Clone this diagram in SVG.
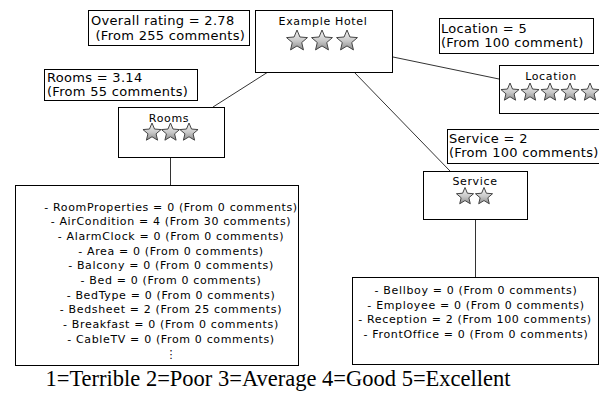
<svg xmlns="http://www.w3.org/2000/svg" xmlns:xlink="http://www.w3.org/1999/xlink" width="599" height="394" viewBox="0 0 599 394">
<style>
.box{fill:#fff;stroke:#000;stroke-width:1}
.conn{stroke:#333;stroke-width:1;fill:none}
.lbl{font-family:"DejaVu Sans",Verdana,sans-serif;font-size:13px;letter-spacing:0.3px;fill:#000}
.t{font-family:"DejaVu Sans",Verdana,sans-serif;font-size:11px;letter-spacing:0.65px;fill:#000;text-anchor:middle}
.foot{font-family:"Liberation Serif","Times New Roman",serif;font-size:22.5px;fill:#000;text-anchor:middle}
.star{fill:url(#sg);stroke:#444;stroke-width:1;vector-effect:non-scaling-stroke}
</style>
<defs>
<linearGradient id="sg" x1="0" y1="0" x2="0" y2="1">
<stop offset="0" stop-color="#f4f4f4"/>
<stop offset="0.55" stop-color="#c8c8c8"/>
<stop offset="1" stop-color="#8a8a8a"/>
</linearGradient>
<path id="star" class="star" d="M0,-1 L0.265,-0.364 L0.951,-0.309 L0.428,0.139 L0.588,0.809 L0,0.45 L-0.588,0.809 L-0.428,0.139 L-0.951,-0.309 L-0.265,-0.364 Z"/>
</defs>
<rect width="599" height="394" fill="#fff"/>
<g id="connectors">
<line class="conn" x1="268" y1="72" x2="213" y2="107"/>
<line class="conn" x1="393" y1="57" x2="499" y2="79"/>
<line class="conn" x1="354" y1="72" x2="450" y2="171"/>
<line class="conn" x1="170.5" y1="157" x2="170.5" y2="185"/>
<line class="conn" x1="475.5" y1="219" x2="475.5" y2="277"/>
</g>
<g id="overall-label">
<rect class="box" x="88.5" y="10.5" width="161" height="35"/>
<text class="lbl" x="91" y="25">Overall rating = 2.78</text>
<text class="lbl" x="91" y="40" xml:space="preserve"> (From 255 comments)</text>
</g>
<g id="hotel">
<rect class="box" x="255.5" y="10.5" width="137" height="62"/>
<text class="t" x="323" y="25">Example Hotel</text>
<use xlink:href="#star" transform="translate(297,41) scale(11)"/>
<use xlink:href="#star" transform="translate(322,41) scale(11)"/>
<use xlink:href="#star" transform="translate(347,41) scale(11)"/>
</g>
<g id="location-label">
<rect class="box" x="439.5" y="18.5" width="154" height="35"/>
<text class="lbl" x="441" y="33">Location = 5</text>
<text class="lbl" x="441" y="47">(From 100 comment)</text>
</g>
<g id="location">
<rect class="box" x="499.5" y="65.5" width="110" height="48"/>
<text class="t" x="551" y="80">Location</text>
<use xlink:href="#star" transform="translate(510,92.5) scale(9.5)"/>
<use xlink:href="#star" transform="translate(530,92.5) scale(9.5)"/>
<use xlink:href="#star" transform="translate(550,92.5) scale(9.5)"/>
<use xlink:href="#star" transform="translate(570,92.5) scale(9.5)"/>
<use xlink:href="#star" transform="translate(590,92.5) scale(9.5)"/>
</g>
<g id="rooms-label">
<rect class="box" x="44.5" y="69.5" width="153" height="31"/>
<text class="lbl" x="47" y="82">Rooms = 3.14</text>
<text class="lbl" x="47" y="96">(From 55 comments)</text>
</g>
<g id="rooms">
<rect class="box" x="118.5" y="107.5" width="106" height="50"/>
<text class="t" x="169" y="122">Rooms</text>
<use xlink:href="#star" transform="translate(152,132.5) scale(9.5)"/>
<use xlink:href="#star" transform="translate(170.5,132.5) scale(9.5)"/>
<use xlink:href="#star" transform="translate(189,132.5) scale(9.5)"/>
</g>
<g id="service-label">
<rect class="box" x="447.5" y="129.5" width="160" height="34"/>
<text class="lbl" x="449" y="143">Service = 2</text>
<text class="lbl" x="449" y="157">(From 100 comments)</text>
</g>
<g id="service">
<rect class="box" x="423.5" y="171.5" width="104" height="48"/>
<text class="t" x="475" y="185">Service</text>
<use xlink:href="#star" transform="translate(465,196.5) scale(9)"/>
<use xlink:href="#star" transform="translate(484,196.5) scale(9)"/>
</g>
<g id="rooms-list">
<rect class="box" x="15.5" y="185.5" width="283" height="180"/>
<text class="t" x="171" y="210.5">- RoomProperties = 0 (From 0 comments)</text>
<text class="t" x="171" y="225.2">- AirCondition = 4 (From 30 comments)</text>
<text class="t" x="171" y="239.9">- AlarmClock = 0 (From 0 comments)</text>
<text class="t" x="171" y="254.6">- Area = 0 (From 0 comments)</text>
<text class="t" x="171" y="269.3">- Balcony = 0 (From 0 comments)</text>
<text class="t" x="171" y="284">- Bed = 0 (From 0 comments)</text>
<text class="t" x="171" y="298.7">- BedType = 0 (From 0 comments)</text>
<text class="t" x="171" y="313.4">- Bedsheet = 2 (From 25 comments)</text>
<text class="t" x="171" y="328.1">- Breakfast = 0 (From 0 comments)</text>
<text class="t" x="171" y="342.8">- CableTV = 0 (From 0 comments)</text>
<text class="t" x="171" y="358" style="letter-spacing:0">⋮</text>
</g>
<g id="service-list">
<rect class="box" x="352.5" y="277.5" width="246" height="87"/>
<text class="t" x="476" y="294">- Bellboy = 0 (From 0 comments)</text>
<text class="t" x="476" y="308.5">- Employee = 0 (From 0 comments)</text>
<text class="t" x="475" y="323">- Reception = 2 (From 100 comments)</text>
<text class="t" x="476" y="337.5">- FrontOffice = 0 (From 0 comments)</text>
</g>
<text class="foot" x="278" y="386">1=Terrible 2=Poor 3=Average 4=Good 5=Excellent</text>
</svg>
